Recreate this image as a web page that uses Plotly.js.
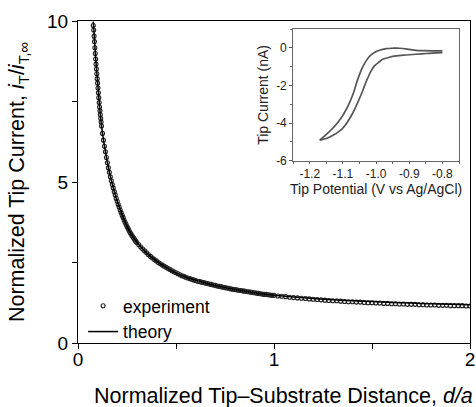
<!DOCTYPE html>
<html>
<head>
<meta charset="utf-8">
<script src="https://cdn.plot.ly/plotly-3.0.1.min.js"></script>
<style>html,body{margin:0;padding:0;background:#fff;}#chart{width:476px;height:407px;}</style>
</head>
<body>
<div id="chart"></div>
<script>
// Main plot: normalized tip current vs normalized distance
const theoryX = [0.077,0.08,0.09,0.10,0.11,0.12,0.13,0.14,0.15,0.16,0.17,0.18,0.19,0.20,0.22,0.24,0.26,0.28,0.30,0.35,0.40,0.45,0.50,0.56,0.63,0.70,0.80,0.90,1.00,1.10,1.20,1.30,1.40,1.50,1.60,1.70,1.80,1.90,2.00];
const theoryY = [9.98,9.80,8.85,8.10,7.35,6.75,6.30,5.95,5.60,5.30,5.05,4.82,4.60,4.40,4.06,3.76,3.50,3.30,3.13,2.80,2.55,2.35,2.18,2.02,1.90,1.79,1.66,1.56,1.48,1.43,1.38,1.34,1.31,1.29,1.26,1.24,1.22,1.205,1.19];

const expX = [0.078,0.080,0.082,0.084,0.086,0.088,0.090,0.092,0.094,0.096,0.098,0.100,0.102,0.104,0.106,0.108,0.110,0.112,0.114,0.116,0.118,0.120,
0.125,0.130,0.135,0.140,0.145,0.150,0.155,0.160,0.165,0.170,0.175,0.180,0.185,0.190,0.195,0.200,0.205,0.210,0.215,0.220,0.225,0.230,0.235,0.240,0.245,0.250,0.255,0.260,0.265,0.270,0.275,0.280,0.285,0.290,0.295,0.300,
0.31,0.32,0.33,0.34,0.35,0.36,0.37,0.38,0.39,0.40,0.41,0.42,0.43,0.44,0.45,0.46,0.47,0.48,0.49,0.50,0.51,0.52,0.53,0.54,0.55,0.56,0.57,0.58,0.59,0.60,0.61,0.62,0.63,0.64,0.65,0.66,0.67,0.68,0.69,0.70,0.71,0.72,0.73,0.74,0.75,0.76,0.77,0.78,0.79,0.80,0.81,0.82,0.83,0.84,0.85,0.86,0.87,0.88,0.89,0.90,0.91,0.92,0.93,0.94,0.95,0.96,0.97,0.98,0.99,1.00,
1.02,1.04,1.06,1.08,1.10,1.12,1.14,1.16,1.18,1.20,1.22,1.24,1.26,1.28,1.30,1.32,1.34,1.36,1.38,1.40,1.42,1.44,1.46,1.48,1.50,1.52,1.54,1.56,1.58,1.60,1.62,1.64,1.66,1.68,1.70,1.72,1.74,1.76,1.78,1.80,1.82,1.84,1.86,1.88,1.90,1.92,1.94,1.96,1.98,2.00];
const expY = [9.86,9.72,9.53,9.36,9.17,8.99,8.82,8.66,8.51,8.36,8.21,8.07,7.92,7.77,7.62,7.47,7.33,7.21,7.09,6.97,6.86,6.74,
6.51,6.30,6.11,5.94,5.76,5.60,5.44,5.30,5.16,5.04,4.92,4.81,4.70,4.60,4.49,4.40,4.30,4.22,4.13,4.05,3.97,3.90,3.82,3.75,3.69,3.62,3.56,3.50,3.44,3.39,3.34,3.29,3.25,3.20,3.16,3.12,
3.05,2.98,2.92,2.86,2.80,2.74,2.69,2.64,2.59,2.55,2.50,2.46,2.42,2.38,2.35,2.31,2.28,2.24,2.21,2.18,2.15,2.12,2.09,2.07,2.04,2.02,2.00,1.98,1.96,1.94,1.92,1.91,1.89,1.88,1.86,1.85,1.83,1.82,1.80,1.79,1.77,1.76,1.75,1.73,1.72,1.71,1.70,1.68,1.67,1.66,1.65,1.64,1.63,1.62,1.61,1.60,1.59,1.58,1.57,1.56,1.55,1.54,1.53,1.52,1.51,1.51,1.50,1.49,1.48,1.48,
1.46,1.45,1.44,1.42,1.41,1.40,1.39,1.38,1.37,1.36,1.35,1.34,1.33,1.32,1.31,1.31,1.30,1.29,1.28,1.28,1.27,1.27,1.26,1.25,1.25,1.24,1.24,1.23,1.23,1.22,1.22,1.21,1.21,1.20,1.20,1.20,1.19,1.19,1.18,1.18,1.18,1.17,1.17,1.17,1.16,1.16,1.16,1.16,1.15,1.15];

// Inset: cyclic voltammogram
const cvScanX = [-0.80,-0.83,-0.86,-0.88,-0.90,-0.93,-0.95,-0.97,-0.99,-1.005,-1.02,-1.03,-1.04,-1.05,-1.06,-1.07,-1.085,-1.10,-1.115,-1.13,-1.15,-1.17];
const cvScanY = [-0.16,-0.16,-0.15,-0.13,-0.08,-0.02,-0.02,-0.04,-0.13,-0.25,-0.45,-0.69,-1.0,-1.41,-1.92,-2.48,-3.1,-3.58,-3.95,-4.26,-4.6,-4.91];
const cvReturnX = [-1.17,-1.15,-1.13,-1.115,-1.10,-1.085,-1.07,-1.058,-1.045,-1.035,-1.025,-1.015,-1.005,-0.99,-0.98,-0.96,-0.94,-0.91,-0.88,-0.85,-0.82,-0.80];
const cvReturnY = [-4.91,-4.82,-4.65,-4.48,-4.26,-3.9,-3.45,-3.0,-2.48,-2.02,-1.59,-1.22,-0.96,-0.74,-0.61,-0.5,-0.43,-0.38,-0.34,-0.3,-0.27,-0.25];

const mainXTicks = [0,1,2];
const mainXLabels = ['0','1','2'];
const mainYTicks = [0,5,10];
const mainYLabels = ['0','5','10'];
const insetXTicks = [-1.2,-1.1,-1.0,-0.9,-0.8];
const insetXLabels = ['-1.2','-1.1','-1.0','-0.9','-0.8'];
const insetYTicks = [-6,-4,-2,0];
const insetYLabels = ['-6','-4','-2','0'];

const FONT = 'Liberation Sans, Arial, sans-serif';

const traces = [
  {x: expX, y: expY, type: 'scatter', mode: 'markers', name: 'experiment',
   marker: {symbol: 'circle-open', size: 4, color: '#222', line: {width: 1.1, color: '#222'}}},
  {x: theoryX, y: theoryY, type: 'scatter', mode: 'lines', name: 'theory',
   line: {color: '#000', width: 1.5, shape: 'spline'}},
  {x: cvScanX, y: cvScanY, type: 'scatter', mode: 'lines', xaxis: 'x2', yaxis: 'y2', showlegend: false,
   line: {color: '#555', width: 1.7, shape: 'spline'}},
  {x: cvReturnX, y: cvReturnY, type: 'scatter', mode: 'lines', xaxis: 'x2', yaxis: 'y2', showlegend: false,
   line: {color: '#555', width: 1.7, shape: 'spline'}}
];

const layout = {
  width: 476, height: 407,
  margin: {l: 78, r: 6, t: 21, b: 64},
  paper_bgcolor: '#fff', plot_bgcolor: '#fff',
  font: {family: FONT, color: '#000'},
  showlegend: true,
  legend: {x: 0.013, y: 0.171, xanchor: 'left', yanchor: 'top', bgcolor: 'rgba(0,0,0,0)',
           font: {size: 17.5, family: FONT, color: '#000'}, tracegroupgap: 0, itemwidth: 30},
  xaxis: {range: [0, 2], tickvals: mainXTicks, ticktext: mainXLabels, ticks: 'outside', ticklen: 5,
          minor: {dtick: 0.5, tick0: 0, ticks: 'outside', ticklen: 5, tickcolor: '#000'},
          ticklabelstandoff: -6,
          tickcolor: '#000', showline: true, linecolor: '#000', linewidth: 1, mirror: true,
          showgrid: false, zeroline: false, tickfont: {size: 19, family: FONT}},
  yaxis: {range: [0, 10], tickvals: mainYTicks, ticktext: mainYLabels, ticks: 'outside', ticklen: 5,
          minor: {dtick: 2.5, tick0: 0, ticks: 'outside', ticklen: 5, tickcolor: '#000'},
          tickcolor: '#000', showline: true, linecolor: '#000', linewidth: 1, mirror: true,
          showgrid: false, zeroline: false, tickfont: {size: 19, family: FONT},
          title: {text: 'Normalized Tip Current, <i>i</i><sub>T</sub>/<i>i</i><sub>T,\u221e</sub>', font: {size: 21.5, family: FONT}, standoff: 16}},
  xaxis2: {domain: [0.549, 0.972], anchor: 'y2', range: [-1.25, -0.75], tickvals: insetXTicks, ticktext: insetXLabels,
           ticks: 'outside', ticklen: 2, tickcolor: '#555', showline: true, linecolor: '#666', linewidth: 1, mirror: true,
           minor: {dtick: 0.05, tick0: -1.25, ticks: 'outside', ticklen: 2, tickcolor: '#666'},
           showgrid: false, zeroline: false, tickfont: {size: 12, family: FONT, color: '#222'},
           title: {text: 'Tip Potential (V vs Ag/AgCl)', font: {size: 14, family: FONT, color: '#222'}, standoff: 0}},
  yaxis2: {domain: [0.566, 0.975], anchor: 'x2', range: [-6, 1], tickvals: insetYTicks, ticktext: insetYLabels,
           ticks: 'outside', ticklen: 3, tickcolor: '#555', showline: true, linecolor: '#666', linewidth: 1, mirror: true,
           minor: {dtick: 1, tick0: -6, ticks: 'outside', ticklen: 2, tickcolor: '#666'},
           showgrid: false, zeroline: false, tickfont: {size: 12, family: FONT, color: '#222'},
           title: {text: 'Tip Current (nA)', font: {size: 14, family: FONT, color: '#222'}, standoff: 4}},
  annotations: [
    {text: 'Normalized Tip\u2013Substrate Distance, <i>d/a</i>', xref: 'paper', yref: 'paper',
     x: (92 - 78) / 392, y: -(396 - 343) / 322, xanchor: 'left', yanchor: 'middle', showarrow: false,
     font: {size: 21.5, family: FONT, color: '#000'}}
  ]
};

Plotly.newPlot('chart', traces, layout, {displayModeBar: false, staticPlot: true});
</script>
</body>
</html>
